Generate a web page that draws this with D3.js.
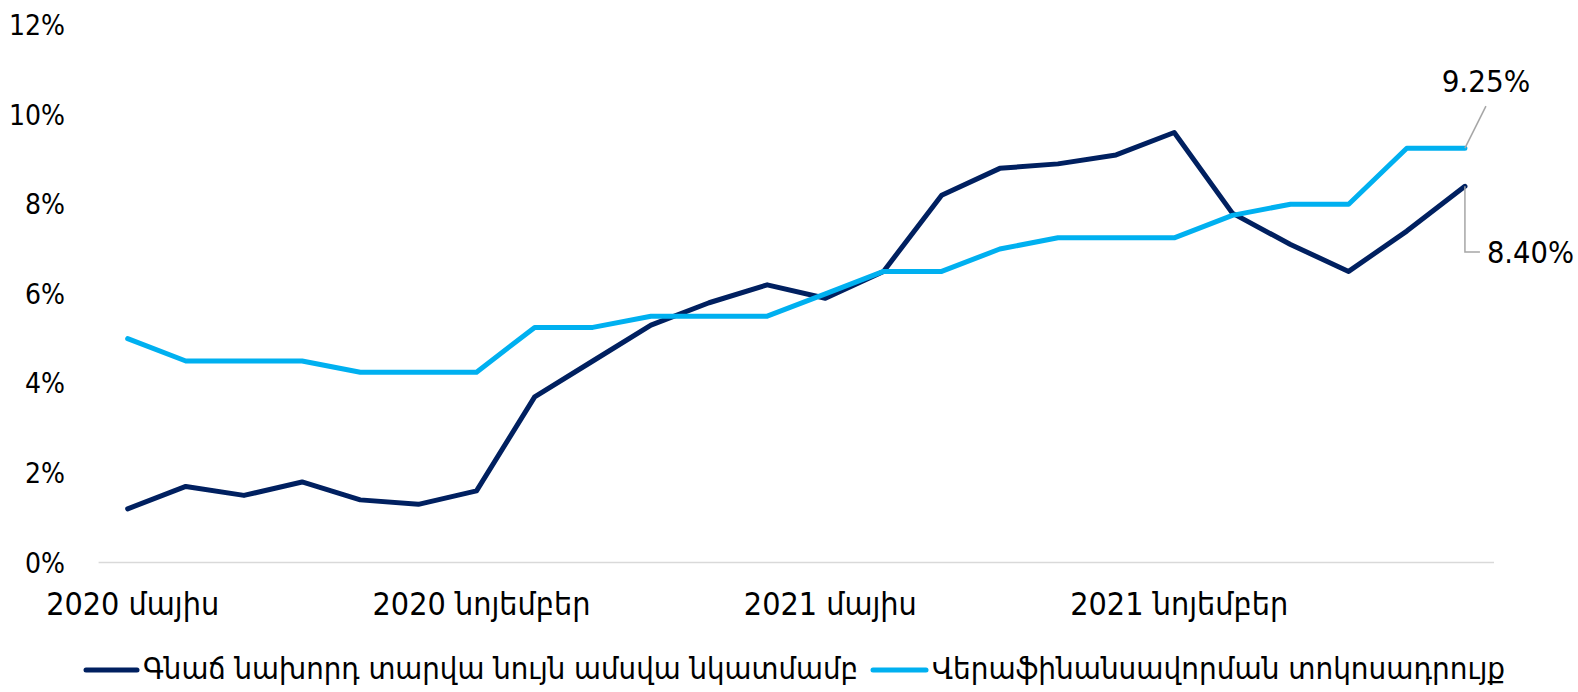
<!DOCTYPE html>
<html lang="hy">
<head>
<meta charset="UTF-8">
<title>Inflation vs refinancing rate</title>
<script src="https://d3js.org/d3.v7.min.js"></script>
<style>
    body { margin: 0; background: #fff; }
    svg text { font-family: "DejaVu Sans Condensed", "DejaVu Sans", sans-serif; fill: #000; }
</style>
</head>
<body>
<div id="chart"></div>
<script>
    // months: 2020 May .. 2022 Apr
    const months = d3.range(24);
    const tickLabels = [
        [0, "2020 մայիս"],
        [6, "2020 նոյեմբեր"],
        [12, "2021 մայիս"],
        [18, "2021 նոյեմբեր"]
    ];
    // Գնաճ նախորդ տարվա նույն ամսվա նկատմամբ
    const inflation = [1.2, 1.7, 1.5, 1.8, 1.4, 1.3, 1.6, 3.7, 4.5, 5.3, 5.8, 6.2,
                       5.9, 6.5, 8.2, 8.8, 8.9, 9.1, 9.6, 7.8, 7.1, 6.5, 7.4, 8.4];
    // Վերաֆինանսավորման տոկոսադրույք
    const refiRate = [5.0, 4.5, 4.5, 4.5, 4.25, 4.25, 4.25, 5.25, 5.25, 5.5, 5.5, 5.5,
                      6.0, 6.5, 6.5, 7.0, 7.25, 7.25, 7.25, 7.75, 8.0, 8.0, 9.25, 9.25];
    const yTicks = [0, 2, 4, 6, 8, 10, 12];
    const seriesNames = ["Գնաճ նախորդ տարվա նույն ամսվա նկատմամբ", "Վերաֆինանսավորման տոկոսադրույք"];
    const colors = ["#002060", "#00b0f0"];

    const width = 1578, height = 692;
    const svg = d3.select("#chart").append("svg")
        .attr("width", width)
        .attr("height", height);

    const x = d3.scalePoint().domain(months).range([98.6, 1494]).padding(0.5);
    const y = d3.scaleLinear().domain([0, 12]).range([562.6, 25]);

    // baseline
    svg.append("line")
        .attr("x1", 98.6).attr("x2", 1494)
        .attr("y1", y(0)).attr("y2", y(0))
        .attr("stroke", "#d9d9d9").attr("stroke-width", 1.5);

    // y labels
    svg.append("g").selectAll("text")
        .data(yTicks)
        .enter().append("text")
        .attr("x", 65)
        .attr("y", d => y(d))
        .attr("dy", "0.36em")
        .attr("text-anchor", "end")
        .style("font-size", "28px")
        .text(d => d + "%");

    // x labels
    svg.append("g").selectAll("text")
        .data(tickLabels)
        .enter().append("text")
        .attr("x", d => x(d[0]) + 5)
        .attr("y", 615)
        .attr("text-anchor", "middle")
        .style("font-size", "32px")
        .text(d => d[1]);

    const line = d3.line()
        .x((d, i) => x(i))
        .y(d => y(d));

    [inflation, refiRate].forEach((s, k) => {
        svg.append("path")
            .datum(s)
            .attr("fill", "none")
            .attr("stroke", colors[k])
            .attr("stroke-width", 5)
            .attr("stroke-linejoin", "round")
            .attr("stroke-linecap", "round")
            .attr("d", line);
    });

    // end labels with leader lines
    const last = months.length - 1;
    const lx = x(last);
    svg.append("path")
        .attr("fill", "none").attr("stroke", "#a6a6a6").attr("stroke-width", 1.5)
        .attr("d", `M${lx},${y(refiRate[last])}L${lx + 21},${y(refiRate[last]) - 42}`);
    svg.append("text")
        .attr("x", lx + 21).attr("y", 92)
        .attr("text-anchor", "middle")
        .style("font-size", "31px")
        .text(refiRate[last].toFixed(2) + "%");

    svg.append("path")
        .attr("fill", "none").attr("stroke", "#a6a6a6").attr("stroke-width", 1.5)
        .attr("d", `M${lx},${y(inflation[last])}L${lx},252L${lx + 15},252`);
    svg.append("text")
        .attr("x", lx + 22).attr("y", 263)
        .attr("textLength", 87)
        .attr("lengthAdjust", "spacingAndGlyphs")
        .style("font-size", "31px")
        .text(inflation[last].toFixed(2) + "%");

    // legend
    const legendItems = [
        { x1: 86, x2: 137, tx: 143, tw: 715 },
        { x1: 873, x2: 926, tx: 932, tw: 573 }
    ];
    legendItems.forEach((l, k) => {
        svg.append("line")
            .attr("x1", l.x1).attr("x2", l.x2)
            .attr("y1", 670).attr("y2", 670)
            .attr("stroke", colors[k]).attr("stroke-width", 5)
            .attr("stroke-linecap", "round");
        svg.append("text")
            .attr("x", l.tx).attr("y", 679)
            .style("font-size", "31px")
            .attr("textLength", l.tw)
            .attr("lengthAdjust", "spacingAndGlyphs")
            .text(seriesNames[k]);
    });
</script>
</body>
</html>
